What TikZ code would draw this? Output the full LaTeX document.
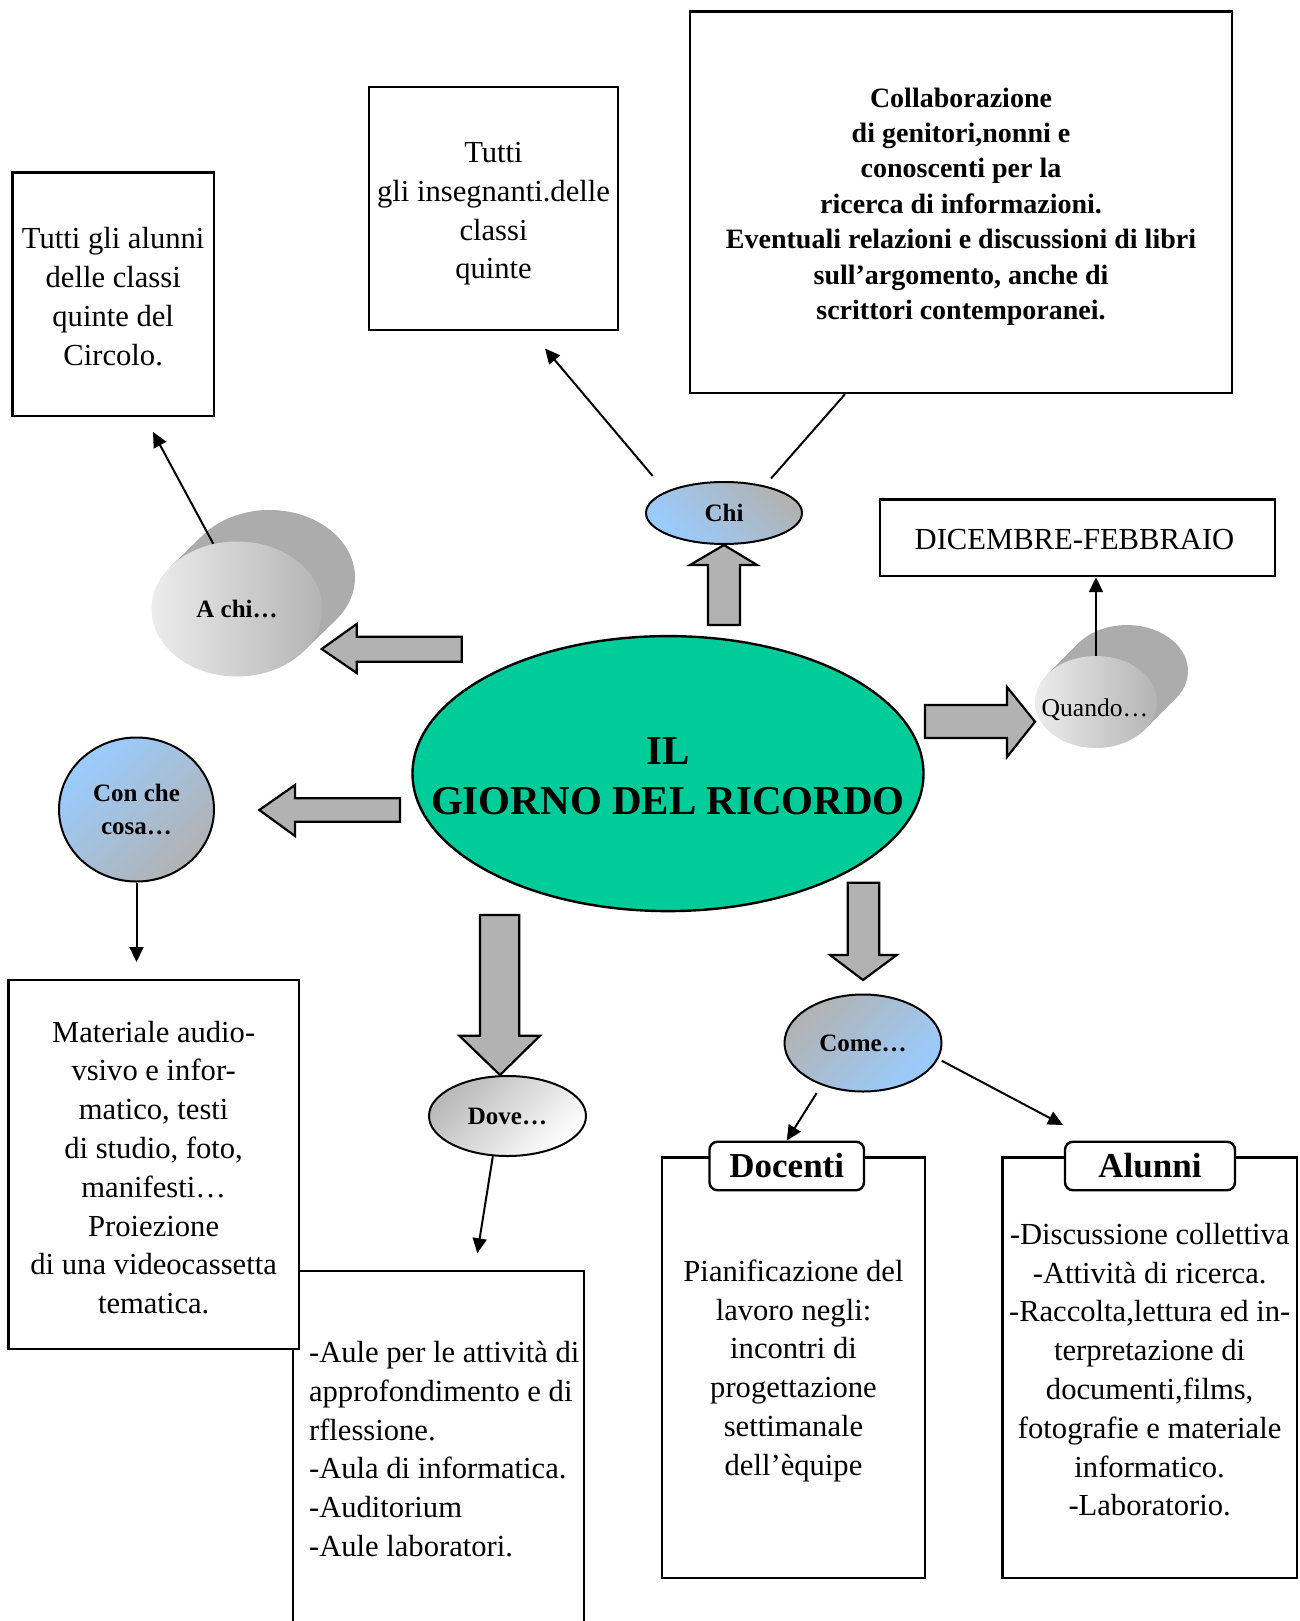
\documentclass[tikz,border=0pt]{standalone}
\usepackage{fontspec}
\setmainfont{Liberation Serif}
\usetikzlibrary{arrows.meta,shapes.geometric,calc}
\definecolor{centergreen}{HTML}{00CC99}
\definecolor{arrgray}{RGB}{178,178,178}
\definecolor{lblue}{RGB}{153,204,255}
\definecolor{bodygray}{RGB}{172,172,172}
\definecolor{facelight}{RGB}{236,236,236}
\definecolor{facedark}{RGB}{180,180,180}
\begin{document}
\begin{tikzpicture}[x=0.5pt,y=-0.5pt,
  txt/.style={font=\fontsize{15.3}{19.4}\selectfont, align=center},
  boxn/.style={draw, line width=1.2pt, fill=white, inner sep=0pt},
  barrow/.style={draw, line width=1.1pt, fill=arrgray, line join=miter},
  conn/.style={line width=1pt, -{Triangle[length=7.5pt,width=7pt]}},
  plainline/.style={line width=1pt},
  lab/.style={font=\bfseries\fontsize{12.5}{16.5}\selectfont, align=center},
  oval/.style={ellipse, draw, line width=1pt, inner sep=0pt},
  face/.style={ellipse, inner sep=0pt, left color=facelight, right color=facedark},
  body/.style={fill=bodygray},
  tag/.style={draw, line width=1.2pt, rounded corners=4pt, fill=white, inner sep=0pt,
    minimum height=24.25pt, font=\bfseries\fontsize{17.5}{20}\selectfont}]
\useasboundingbox (0,0) rectangle (1300,1621);
\clip (0,0) rectangle (1300,1621);

% top boxes
\node[boxn, minimum width=100.8pt, minimum height=121.5pt] (box1) at (113.2,294.2) {};
\node[txt] (box1t) at (113.2,296.5) {Tutti gli alunni\\delle classi\\quinte del\\Circolo.};
\node[boxn, minimum width=124.5pt, minimum height=121.5pt] (box2) at (493.5,208.5) {};
\node[txt] (box2t) at (493.5,213.8) {Tutti\\gli insegnanti.delle\\classi\\quinte};
\node[boxn, minimum width=271pt, minimum height=190.8pt] (collab) at (961,202.2) {};
\node[align=center, font=\bfseries\fontsize{14}{17.7}\selectfont] (collabt) at (961,206.5)
  {Collaborazione\\di genitori,nonni e\\conoscenti per la\\ricerca di informazioni.\\
   Eventuali relazioni e discussioni di libri\\sull’argomento, anche di\\scrittori contemporanei.};
\node[boxn, minimum width=197.5pt, minimum height=38.25pt] (dic) at (1077.5,537.75) {};
\node[txt] (dict) at (1074.5,540) {DICEMBRE-FEBBRAIO};

% central ellipse
\node[ellipse, draw, line width=1.2pt, fill=centergreen, minimum width=255.5pt,
  minimum height=137.5pt, inner sep=0pt] (main) at (668,773.6) {};
\node[font=\bfseries\fontsize{20.5}{24.8}\selectfont, align=center] (maintxt) at (668,776)
  {IL\\GIORNO DEL RICORDO};

% Chi
\node[oval, top color=arrgray, bottom color=lblue, shading angle=-45,
  minimum width=78pt, minimum height=31pt, lab] (chi) at (724,513) {Chi};

% A chi (3D disk)
\fill[body] (237+66.3,609+42.6) -- ++(32.5,-31.5)
  arc[start angle=39.16, end angle=-140.84, x radius=85.5, y radius=67.5]
  -- (237-66.3,609-42.6) -- cycle;
\node[face, minimum width=85.5pt, minimum height=67.5pt, lab] (achi) at (237,609) {A chi…};

% Quando (3D disk)
\fill[body] (1096+48.7,702+27.7) -- ++(31,-31)
  arc[start angle=37, end angle=-143, x radius=61, y radius=46]
  -- (1096-48.7,702-27.7) -- cycle;
\node[face, minimum width=61pt, minimum height=46pt] (quando) at (1096,702) {};
\node[font=\fontsize{12.8}{15}\selectfont] (quandotxt) at (1095,710) {Quando…};

% Con che cosa
\node[oval, top color=lblue, bottom color=arrgray, shading angle=45,
  minimum width=77.5pt, minimum height=72pt, lab] (cosa) at (136.5,809.5) {Con che\\cosa…};

% Dove
\node[oval, top color=gray!55, bottom color=white, shading angle=45,
  minimum width=78.5pt, minimum height=40pt, lab] (dove) at (507.5,1116) {Dove…};

% Come
\node[oval, top color=arrgray, bottom color=lblue, shading angle=45,
  minimum width=78.5pt, minimum height=48.5pt, lab] (come) at (863,1043) {Come…};

% block arrows
\draw[barrow] (708,625) -- (708,565) -- (690,565) -- (724,545) -- (757,565) -- (740,565) -- (740,625) -- cycle;
\draw[barrow] (461.7,636.7) -- (356.7,636.7) -- (356.7,624) -- (321.7,649) -- (356.7,673) -- (356.7,661.7) -- (461.7,661.7) -- cycle;
\draw[barrow] (400,798.3) -- (295,798.3) -- (295,785) -- (259.3,810) -- (295,836) -- (295,821.7) -- (400,821.7) -- cycle;
\draw[barrow] (925,705) -- (1007,705) -- (1007,687) -- (1035,721.7) -- (1007,757) -- (1007,738) -- (925,738) -- cycle;
\draw[barrow] (480,915) -- (480,1035.7) -- (459.3,1035.7) -- (500,1075) -- (540,1035.7) -- (519.3,1035.7) -- (519.3,915) -- cycle;
\draw[barrow] (847.7,882.7) -- (847.7,955) -- (830,955) -- (863,980) -- (896.7,955) -- (879.3,955) -- (879.3,882.7) -- cycle;

% lower boxes
\node[boxn, minimum width=145.65pt, minimum height=204.65pt] (dovebox) at (438.35,1475.35) {};
\node[font=\fontsize{15.3}{19.4}\selectfont, align=left, anchor=west] (dovetxt) at (302,1449)
  {-Aule per le attività di\\approfondimento e di\\rflessione.\\-Aula di informatica.\\-Auditorium\\-Aule laboratori.};
\node[boxn, minimum width=145.35pt, minimum height=184.5pt] (cosabox) at (153.65,1164.5) {};
\node[txt] (cosat) at (153.65,1167.5)
  {Materiale audio-\\vsivo e infor-\\matico, testi\\di studio, foto,\\manifesti…\\Proiezione\\di una videocassetta\\tematica.};
\node[boxn, minimum width=131.5pt, minimum height=210.35pt] (docbox) at (793.5,1367.65) {};
\node[txt] (doct) at (793.5,1370.7)
  {Pianificazione del\\lavoro negli:\\incontri di\\progettazione\\settimanale\\dell’èquipe};
\node[boxn, minimum width=147.35pt, minimum height=210.35pt] (alubox) at (1149.65,1367.65) {};
\node[txt] (alut) at (1149.65,1369.7)
  {-Discussione collettiva\\-Attività di ricerca.\\-Raccolta,lettura ed in-\\terpretazione di\\documenti,films,\\fotografie e materiale\\informatico.\\-Laboratorio.};
\node[tag, minimum width=77.25pt] (docl) at (786.75,1166) {Docenti};
\node[tag, minimum width=85pt] (alul) at (1150,1166) {Alunni};

% connectors
\coordinate (t1) at (153,432);
\coordinate (s2) at (652.7,476);
\coordinate (t2) at (545,348.5);
\coordinate (s3) at (771,478.5);
\coordinate (t4) at (136.5,962);
\coordinate (t5) at (477.3,1253.3);
\coordinate (s6) at (816.7,1093);
\coordinate (s7) at (941.7,1060.7);
\coordinate (t7) at (1063,1125);
\draw[conn] (achi.110) -- (t1);
\draw[conn] (s2) -- (t2);
\draw[plainline] (s3) -- (845,0 |- collab.south);
\draw[conn] (quando.north) -- (quando.north |- dic.south);
\draw[conn] (cosa.south) -- (t4);
\draw[conn] (dove.250) -- (t5);
\draw[conn] (s6) -- (docl.north);
\draw[conn] (s7) -- (t7);
\end{tikzpicture}
\end{document}
